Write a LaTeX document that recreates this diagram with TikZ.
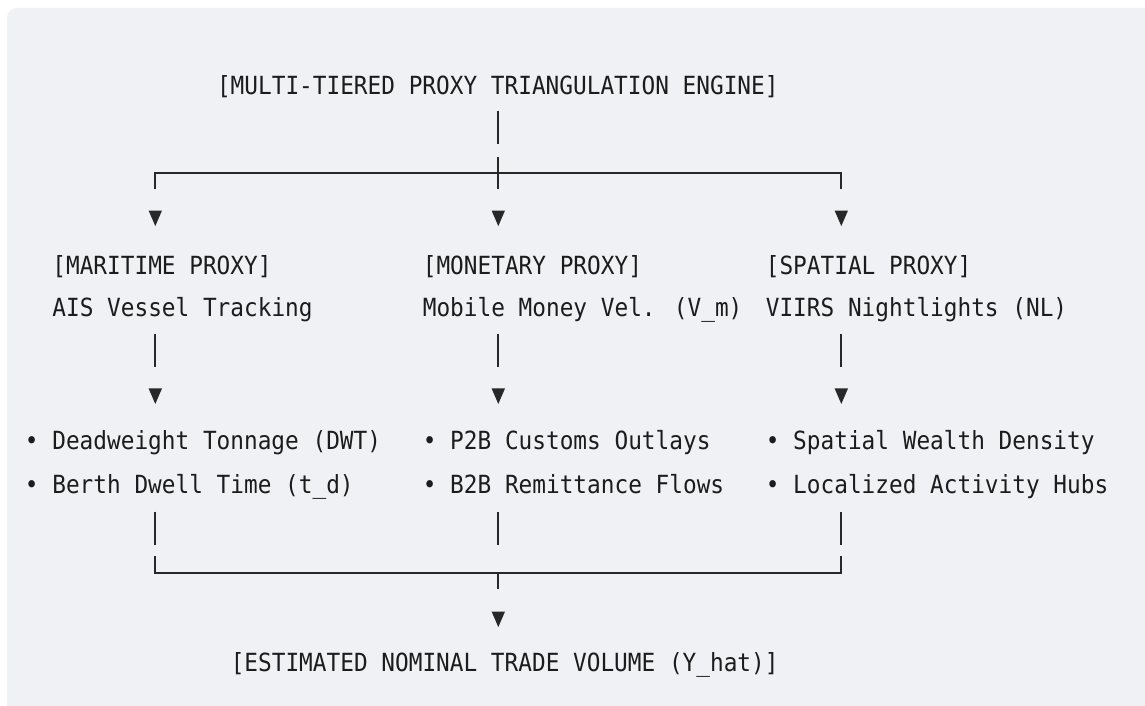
\documentclass[tikz,border=0pt]{standalone}
\usepackage{fontspec}
\usetikzlibrary{calc}
\newfontfamily\codefont[FakeStretch=0.91]{DejaVu Sans Mono}
\definecolor{bg}{RGB}{240,241,245}
\definecolor{ink}{RGB}{28,28,28}
\definecolor{ln}{RGB}{40,40,40}
\tikzset{
  txt/.style={font=\codefont\fontsize{25}{30}\selectfont, text=ink, inner sep=0pt, outer sep=0pt, anchor=base west},
  conn/.style={draw=ln, line width=2.2pt, line cap=butt, line join=miter},
  tri/.style={fill=ln}
}
\begin{document}
\begin{tikzpicture}[x=1pt,y=-1pt]
\useasboundingbox (0,0) rectangle (1145,706);
\fill[white] (0,0) rectangle (1145,706);
\begin{scope}
  \clip (0,0) rectangle (1145,706);
  \fill[bg, rounded corners=10pt] (7,8) rectangle (1165,740);
\end{scope}

% text nodes
\node[txt] (title) at (217.04,94.3) {[MULTI-TIERED PROXY TRIANGULATION ENGINE]};
\node[txt] (mar) at (52.40,274.3) {[MARITIME PROXY]};
\node[txt] (mon) at (422.84,274.3) {[MONETARY PROXY]};
\node[txt] (spa) at (765.84,274.3) {[SPATIAL PROXY]};
\node[txt] (ais) at (52.40,316) {AIS Vessel Tracking};
\node[txt] (mob) at (422.84,316) {Mobile Money Vel. (V\_m)};
\node[txt] (vii) at (765.84,316) {VIIRS Nightlights (NL)};
\node[txt] (dwt) at (24.96,449.3) {• Deadweight Tonnage (DWT)};
\node[txt] (bdt) at (24.96,493.3) {• Berth Dwell Time (t\_d)};
\node[txt] (p2b) at (422.84,449.3) {• P2B Customs Outlays};
\node[txt] (b2b) at (422.84,493.3) {• B2B Remittance Flows};
\node[txt] (swd) at (765.84,449.3) {• Spatial Wealth Density};
\node[txt] (lah) at (765.84,493.3) {• Localized Activity Hubs};
\node[txt] (est) at (230.76,671) {[ESTIMATED NOMINAL TRADE VOLUME (Y\_hat)]};

% column coordinates
\coordinate (cL) at (155.3,0);
\coordinate (cM) at (498.3,0);
\coordinate (cR) at (841.3,0);

% top trunk
\draw[conn] (cM |- 0,111) coordinate (t0) -- (cM |- 0,144.3) coordinate (t1);
% top distribution line
\draw[conn] (cL |- 0,189.3) coordinate (dL) -- (cL |- 0,172.7) coordinate (hL)
  -- (cR |- 0,172.7) coordinate (hR) -- (cR |- 0,189.3) coordinate (dR);
\draw[conn] (cM |- 0,156.7) coordinate (jU) -- (cM |- 0,189.3) coordinate (jD);

% middle bars
\foreach \c in {cL,cM,cR}{
  \draw[conn] (\c |- 0,334) -- (\c |- 0,367.3);
  \draw[conn] (\c |- 0,511.7) -- (\c |- 0,545);
}
% bottom collector
\draw[conn] (cL |- 0,556) coordinate (uL) -- (cL |- 0,573) coordinate (bL)
  -- (cR |- 0,573) coordinate (bR) -- (cR |- 0,556) coordinate (uR);
\draw[conn] (cM |- 0,573) coordinate (bM) -- (cM |- 0,589) coordinate (bD);

% down triangles
\foreach \c/\y in {cL/218.3,cM/218.3,cR/218.3,cL/396.2,cM/396.2,cR/396.2,cM/619.3}{
  \fill[tri] ($(\c |- 0,\y)+(-6.7,-7.75)$) -- ++(13.4,0) -- ++(-6.7,15.5) -- cycle;
}
\end{tikzpicture}
\end{document}
